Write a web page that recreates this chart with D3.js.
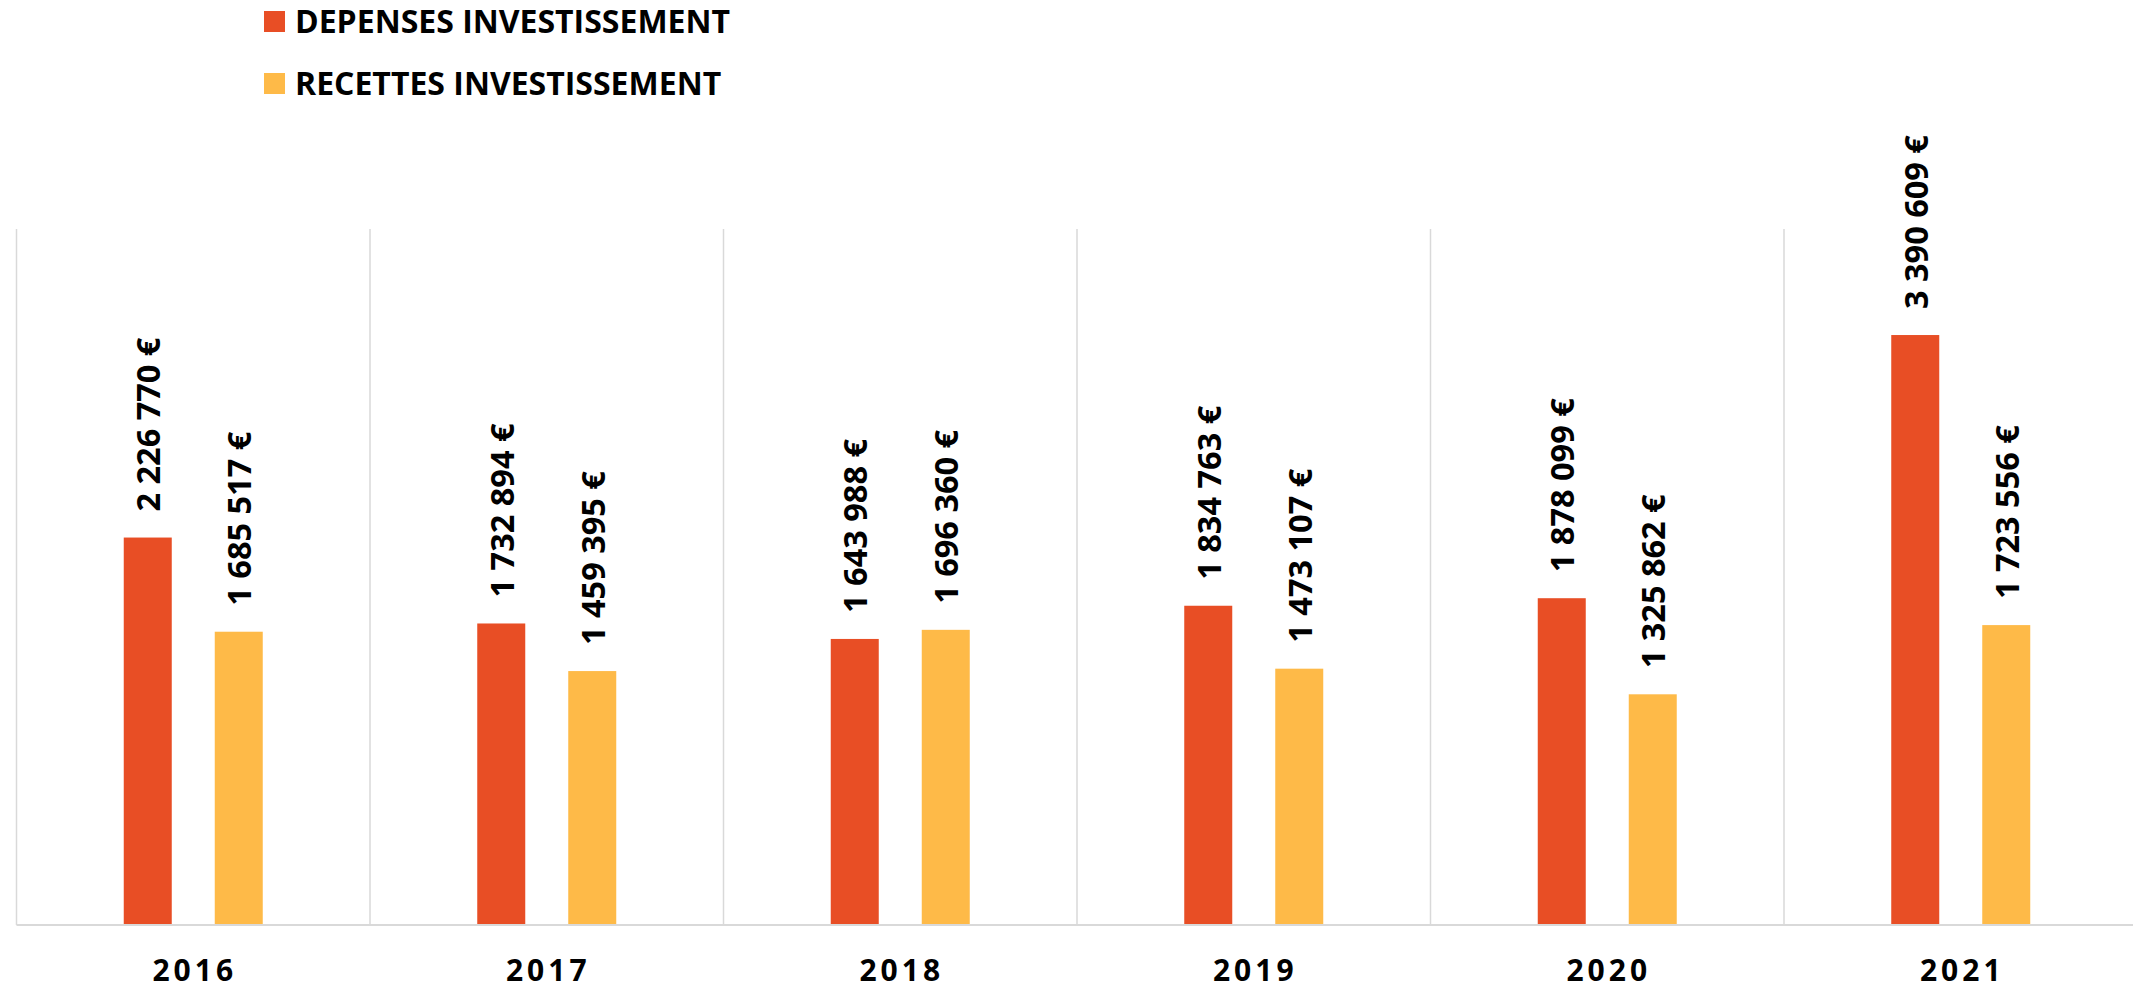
<!DOCTYPE html>
<html>
<head>
<meta charset="utf-8">
<script src="https://cdn.jsdelivr.net/npm/d3@7"></script>
<style>
    body { margin: 0; background: #fff; }
    text { font-family: "Open Sans", "Liberation Sans", sans-serif; font-weight: bold; fill: #000; }
</style>
</head>
<body>
<svg id="chart"></svg>
<script>
const years = ["2016", "2017", "2018", "2019", "2020", "2021"]
const seriesNames = ["DEPENSES INVESTISSEMENT", "RECETTES INVESTISSEMENT"]
const depenses = [2226770, 1732894, 1643988, 1834763, 1878099, 3390609]
const recettes = [1685517, 1459395, 1696360, 1473107, 1325862, 1723556]
const colors = ["#E84E25", "#FEBA48"]

const width = 2133
const height = 990
const margins = {left: 16.5, top: 229, bottom: 925}
const plotRight = margins.left + 6 * 353.5

const svg = d3.select("#chart").attr("width", width).attr("height", height)

const scaleX = d3.scaleBand().domain(years).range([margins.left, plotRight]).padding(0)
const scaleSeries = d3.scaleBand().domain(seriesNames).range([0, scaleX.bandwidth()])
    .paddingInner(43 / 91).paddingOuter(1.1786)
const scaleY = d3.scaleLinear().domain([0, 4000000]).range([margins.bottom, margins.top])
const color = d3.scaleOrdinal().domain(seriesNames).range(colors)

const fmt = v => d3.format(",")(v).replace(/,/g, " ") + " €"

// vertical separators
const seps = [margins.left, ...years.slice(1).map(y => scaleX(y))]
svg.append("g").selectAll("line")
    .data(seps)
    .join("line")
    .attr("x1", d => d).attr("x2", d => d)
    .attr("y1", margins.top).attr("y2", margins.bottom)
    .attr("stroke", "#d9d9d9")
    .attr("stroke-width", 1.5)

// data rows
const rows = []
years.forEach((y, i) => {
    rows.push({year: y, series: seriesNames[0], value: depenses[i]})
    rows.push({year: y, series: seriesNames[1], value: recettes[i]})
})

const bars = svg.append("g")
bars.selectAll("rect")
    .data(rows)
    .join("rect")
    .attr("x", d => scaleX(d.year) + scaleSeries(d.series))
    .attr("width", scaleSeries.bandwidth())
    .attr("y", d => scaleY(d.value))
    .attr("height", d => scaleY(0) - scaleY(d.value))
    .attr("fill", d => color(d.series))

bars.selectAll("text")
    .data(rows)
    .join("text")
    .attr("transform", d => {
        let cx = scaleX(d.year) + scaleSeries(d.series) + scaleSeries.bandwidth() / 2
        return `translate(${cx}, ${scaleY(d.value) - 26}) rotate(-90)`
    })
    .attr("dominant-baseline", "central")
    .attr("font-size", 32.5)
    .text(d => fmt(d.value))

// baseline
svg.append("line")
    .attr("x1", margins.left).attr("x2", width)
    .attr("y1", margins.bottom).attr("y2", margins.bottom)
    .attr("stroke", "#d9d9d9")
    .attr("stroke-width", 2)

// year labels
svg.append("g").selectAll("text")
    .data(years)
    .join("text")
    .attr("x", d => scaleX(d) + scaleX.bandwidth() / 2 + 1.5)
    .attr("y", 981)
    .attr("text-anchor", "middle")
    .attr("font-size", 30)
    .attr("letter-spacing", 4)
    .text(d => d)

// legend
const legend = svg.append("g").selectAll("g")
    .data(seriesNames)
    .join("g")
    .attr("transform", (d, i) => `translate(264, ${11 + i * 62})`)
legend.append("rect")
    .attr("width", 21).attr("height", 21)
    .attr("fill", d => color(d))
legend.append("text")
    .attr("x", 31)
    .attr("y", 22)
    .attr("font-size", 32)
    .text(d => d)
</script>
</body>
</html>
